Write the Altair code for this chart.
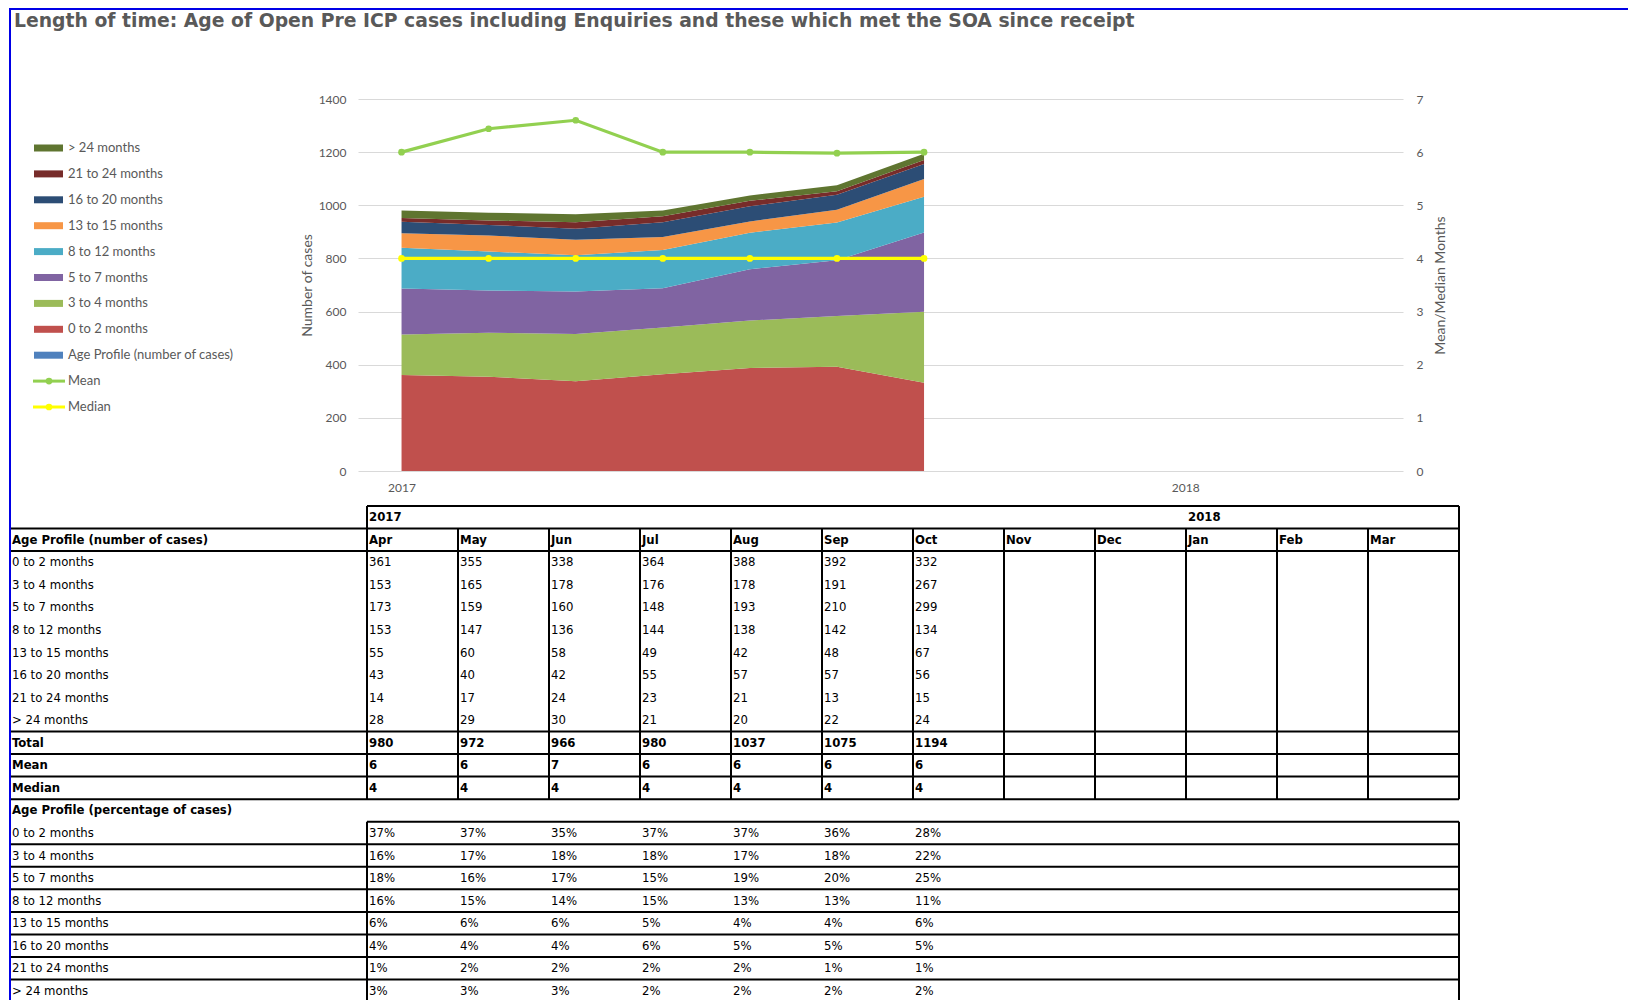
import altair as alt
import pandas as pd

# ---------------- data ----------------
title_text = "Length of time: Age of Open Pre ICP cases including Enquiries and these which met the SOA since receipt"
months = ["Apr", "May", "Jun", "Jul", "Aug", "Sep", "Oct", "Nov", "Dec", "Jan", "Feb", "Mar"]
data_months = ["Apr", "May", "Jun", "Jul", "Aug", "Sep", "Oct"]
years = ["2017", "2018"]
year_start_months = ["Apr", "Jan"]

bands = ["0 to 2 months", "3 to 4 months", "5 to 7 months", "8 to 12 months",
         "13 to 15 months", "16 to 20 months", "21 to 24 months", "> 24 months"]
band_colors = ["#C0504D", "#9BBB59", "#8064A2", "#4BACC6",
               "#F79646", "#2C4D75", "#772C2A", "#5F7530"]

c_0_2 = [361, 355, 338, 364, 388, 392, 332]
c_3_4 = [153, 165, 178, 176, 178, 191, 267]
c_5_7 = [173, 159, 160, 148, 193, 210, 299]
c_8_12 = [153, 147, 136, 144, 138, 142, 134]
c_13_15 = [55, 60, 58, 49, 42, 48, 67]
c_16_20 = [43, 40, 42, 55, 57, 57, 56]
c_21_24 = [14, 17, 24, 23, 21, 13, 15]
c_24p = [28, 29, 30, 21, 20, 22, 24]
counts = [c_0_2, c_3_4, c_5_7, c_8_12, c_13_15, c_16_20, c_21_24, c_24p]

totals = [980, 972, 966, 980, 1037, 1075, 1194]
mean_table = [6, 6, 7, 6, 6, 6, 6]
median_table = [4, 4, 4, 4, 4, 4, 4]
mean_plot = [6.0, 6.44, 6.6, 6.0, 6.0, 5.98, 6.0]
median_plot = [4.0, 4.0, 4.0, 4.0, 4.0, 4.0, 4.0]

p_0_2 = ["37%", "37%", "35%", "37%", "37%", "36%", "28%"]
p_3_4 = ["16%", "17%", "18%", "18%", "17%", "18%", "22%"]
p_5_7 = ["18%", "16%", "17%", "15%", "19%", "20%", "25%"]
p_8_12 = ["16%", "15%", "14%", "15%", "13%", "13%", "11%"]
p_13_15 = ["6%", "6%", "6%", "5%", "4%", "4%", "6%"]
p_16_20 = ["4%", "4%", "4%", "6%", "5%", "5%", "5%"]
p_21_24 = ["1%", "2%", "2%", "2%", "2%", "1%", "1%"]
p_24p = ["3%", "3%", "3%", "2%", "2%", "2%", "2%"]
pcts = [p_0_2, p_3_4, p_5_7, p_8_12, p_13_15, p_16_20, p_21_24, p_24p]

line_series = ["Mean", "Median"]
line_colors = ["#92D050", "#FFFF00"]

legend_labels = ["> 24 months", "21 to 24 months", "16 to 20 months", "13 to 15 months",
                 "8 to 12 months", "5 to 7 months", "3 to 4 months", "0 to 2 months",
                 "Age Profile (number of cases)", "Mean", "Median"]
legend_colors = ["#5F7530", "#772C2A", "#2C4D75", "#F79646", "#4BACC6", "#8064A2",
                 "#9BBB59", "#C0504D", "#4F81BD", "#92D050", "#FFFF00"]

hdr_counts = "Age Profile (number of cases)"
hdr_pct = "Age Profile (percentage of cases)"

# ---------------- style ----------------
GREY = "#595959"
UI_FONT = "Lato"
TBL_FONT = "Liberation Sans Narrow, Arial Narrow, DejaVu Sans Condensed, sans-serif"
W, H = 1045, 372

# ---------------- main chart ----------------
area_df = pd.DataFrame([
    {"month": m, "band": b, "order": bi, "count": counts[bi][mi]}
    for bi, b in enumerate(bands) for mi, m in enumerate(data_months)
])
line_df = pd.DataFrame(
    [{"month": m, "series": "Mean", "value": v} for m, v in zip(data_months, mean_plot)]
    + [{"month": m, "series": "Median", "value": v} for m, v in zip(data_months, median_plot)]
)

axis_style = dict(labelFont=UI_FONT, labelFontSize=12, labelColor=GREY, domain=False, ticks=False,
                  titleFont=UI_FONT, titleFontSize=14, titleFontWeight="normal", titleColor=GREY)

label_expr = " : ".join(
    f"datum.value == '{m}' ? '{y}'" for m, y in zip(year_start_months, years)) + " : ''"

x_main = alt.X("month:N", sort=months,
               scale=alt.Scale(type="point", domain=months, padding=0.5),
               axis=alt.Axis(labelExpr=label_expr, labelAngle=0, labelPadding=11, grid=False,
                             title=None, labelOverlap=False, **axis_style))

areas = alt.Chart(area_df).mark_area(opacity=1).encode(
    x=x_main,
    y=alt.Y("count:Q", stack="zero",
            scale=alt.Scale(domain=[0, 1400], nice=False),
            axis=alt.Axis(values=list(range(0, 1401, 200)), format="d", title="Number of cases",
                          grid=True, gridColor="#D9D9D9", gridWidth=1.2,
                          labelPadding=12, titlePadding=4, **axis_style)),
    color=alt.Color("band:N", scale=alt.Scale(domain=bands, range=band_colors), legend=None),
    order=alt.Order("order:Q", sort="ascending"),
)

y_right = alt.Y("value:Q", scale=alt.Scale(domain=[0, 7], nice=False),
                axis=alt.Axis(orient="right", values=list(range(8)), format="d",
                              title="Mean/Median Months",
                              titleAngle=270, grid=False, labelPadding=13, titlePadding=25,
                              **axis_style))
line_color = alt.Color("series:N", scale=alt.Scale(domain=line_series, range=line_colors), legend=None)

lines = alt.Chart(line_df).mark_line(strokeWidth=3.2).encode(
    x=alt.X("month:N", sort=months), y=y_right, color=line_color)
points = alt.Chart(line_df).mark_point(filled=True, size=45, opacity=1).encode(
    x=alt.X("month:N", sort=months), y=y_right, color=line_color)

main = alt.layer(areas, alt.layer(lines, points)).resolve_scale(y="independent", color="independent")

# ---------------- legend (drawn by hand, left of the plot) ----------------
legend_df = pd.DataFrame({"label": legend_labels,
                          "kind": ["swatch"] * 9 + ["line"] * 2})
leg_y = alt.Y("label:N", sort=legend_labels,
              scale=alt.Scale(type="point", domain=legend_labels, range=[49, 308], padding=0),
              axis=None)
leg_color = alt.Color("label:N", scale=alt.Scale(domain=legend_labels, range=legend_colors),
                      legend=None)
leg_base = alt.Chart(legend_df)
leg_swatch = leg_base.transform_filter("datum.kind == 'swatch'").mark_rule(strokeWidth=7).encode(
    x=alt.value(-324), x2=alt.value(-295), y=leg_y, color=leg_color)
leg_line = leg_base.transform_filter("datum.kind == 'line'").mark_rule(strokeWidth=3).encode(
    x=alt.value(-325), x2=alt.value(-293), y=leg_y, color=leg_color)
leg_dot = leg_base.transform_filter("datum.kind == 'line'").mark_point(
    filled=True, size=45, opacity=1).encode(x=alt.value(-309), y=leg_y, color=leg_color)
leg_text = leg_base.mark_text(align="left", baseline="middle", font=UI_FONT, fontSize=13,
                              color=GREY).encode(x=alt.value(-290), y=leg_y, text="label:N")
legend_layer = alt.layer(leg_swatch, leg_line, leg_dot, leg_text)

# ---------------- table below the chart ----------------
cells = []
for y, m in zip(years, year_start_months):
    cells.append({"row": 0, "col": months.index(m) + 1, "text": y, "bold": True})
cells.append({"row": 1, "col": 0, "text": hdr_counts, "bold": True})
for j, m in enumerate(months):
    cells.append({"row": 1, "col": j + 1, "text": m, "bold": True})
for i, b in enumerate(bands):
    cells.append({"row": 2 + i, "col": 0, "text": b, "bold": False})
    for j, v in enumerate(counts[i]):
        cells.append({"row": 2 + i, "col": j + 1, "text": str(v), "bold": False})
for r, (name, vals) in enumerate([("Total", totals), ("Mean", mean_table), ("Median", median_table)]):
    cells.append({"row": 10 + r, "col": 0, "text": name, "bold": True})
    for j, v in enumerate(vals):
        cells.append({"row": 10 + r, "col": j + 1, "text": str(v), "bold": True})
cells.append({"row": 13, "col": 0, "text": hdr_pct, "bold": True})
for i, b in enumerate(bands):
    cells.append({"row": 14 + i, "col": 0, "text": b, "bold": False})
    for j, v in enumerate(pcts[i]):
        cells.append({"row": 14 + i, "col": j + 1, "text": v, "bold": False})
cell_df = pd.DataFrame(cells)
cell_df["yc"] = cell_df["row"] + 0.5

n_rows = 22
row_h = 22.55
tx_scale = alt.Scale(domain=[0, 1, 13], range=[-348, 9, 1101], nice=False, zero=False)
ty_scale = alt.Scale(domain=[0, n_rows], range=[407, 407 + row_h * n_rows], nice=False, zero=False)

# grid lines of the table: (row boundary, from column boundary, to column boundary)
hl = [(0, 1, 13), (1, 0, 13), (2, 0, 13), (10, 0, 13), (11, 0, 13), (12, 0, 13), (13, 0, 13),
      (14, 1, 13)]
hl += [(k, 0, 13) for k in range(15, n_rows + 1)]
vl = [(1, 0, 13), (13, 0, 13)] + [(c, 1, 13) for c in range(2, 13)] + [(1, 14, n_rows), (13, 14, n_rows)]
hl_df = pd.DataFrame(hl, columns=["k", "a", "b"])
vl_df = pd.DataFrame(vl, columns=["c", "k1", "k2"])

t_hl = alt.Chart(hl_df).mark_rule(color="black", strokeWidth=2).encode(
    y=alt.Y("k:Q", scale=ty_scale, axis=None),
    x=alt.X("a:Q", scale=tx_scale, axis=None), x2="b:Q")
t_vl = alt.Chart(vl_df).mark_rule(color="black", strokeWidth=2).encode(
    x=alt.X("c:Q", scale=tx_scale, axis=None),
    y=alt.Y("k1:Q", scale=ty_scale, axis=None), y2="k2:Q")
t_norm = alt.Chart(cell_df).transform_filter("!datum.bold").mark_text(
    align="left", baseline="middle", dx=2, font=TBL_FONT, fontSize=13, color="black").encode(
    x=alt.X("col:Q", scale=tx_scale, axis=None),
    y=alt.Y("yc:Q", scale=ty_scale, axis=None), text="text:N")
t_bold = alt.Chart(cell_df).transform_filter("datum.bold").mark_text(
    align="left", baseline="middle", dx=2, font=TBL_FONT, fontSize=13, fontWeight="bold",
    color="black").encode(
    x=alt.X("col:Q", scale=tx_scale, axis=None),
    y=alt.Y("yc:Q", scale=ty_scale, axis=None), text="text:N")
table_layer = alt.layer(t_hl, t_vl, t_norm, t_bold)

# ---------------- blue frame of the sheet ----------------
frame_df = pd.DataFrame({"f": [0]})
frame_left = alt.Chart(frame_df).mark_rule(color="#0000E6", strokeWidth=2).encode(
    x=alt.value(-348), y=alt.value(-92), y2=alt.value(905))
frame_top = alt.Chart(frame_df).mark_rule(color="#0000E6", strokeWidth=2).encode(
    x=alt.value(-349), x2=alt.value(1275), y=alt.value(-90))
frame_layer = alt.layer(frame_left, frame_top)

chart = alt.layer(main, legend_layer, table_layer, frame_layer).resolve_scale(
    x="independent", y="independent", color="independent"
).properties(
    width=W, height=H,
    title=alt.TitleParams(title_text, anchor="start", frame="group", font="DejaVu Sans",
                          fontSize=18.8, fontWeight="bold", color=GREY, dx=-344, offset=0, dy=25),
    autosize=alt.AutoSizeParams(type="none"),
    padding={"left": 350, "top": 91, "right": 225, "bottom": 529},
).configure_view(stroke=None)

chart.save("out.html", embed_options={"renderer": "svg", "actions": False})
